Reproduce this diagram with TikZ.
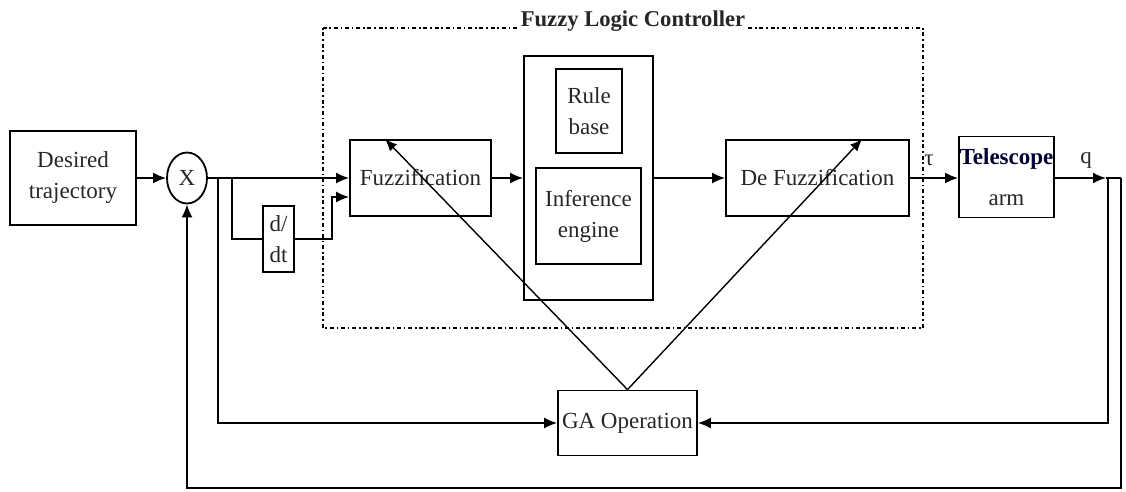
\documentclass[tikz,border=0pt]{standalone}
\usepackage{fontspec}
\setmainfont{Liberation Serif}
\usetikzlibrary{arrows.meta,shapes.geometric,calc}
\begin{document}
\begin{tikzpicture}[x=0.5pt,y=-0.5pt,
  every node/.style={font=\fontsize{11.5}{15.5}\selectfont, inner sep=0pt, text=black!85},
  blk/.style={draw=black, line width=0.9pt, align=center, inner sep=0pt},
  ln/.style={line width=0.9pt},
  arr/.style={ln, -{Latex[length=6.5pt,width=5.5pt]}},
  darr/.style={line width=0.7pt, -{Latex[length=6pt,width=5pt]}},
  flcbox/.style={line width=0.8pt, dash pattern=on 0.8pt off 1.4pt on 2pt off 1.4pt},
  ]
\useasboundingbox (0,0) rectangle (1126,492);
% dotted controller frame
\draw[flcbox] (323,28) rectangle (923,328);
\node[anchor=base, font=\bfseries\fontsize{11.3}{13}\selectfont, fill=white, inner xsep=1pt] (title) at (633,27) {Fuzzy Logic Controller};
% blocks
\node[blk, minimum width=63pt, minimum height=47pt] (des) at (73,178) {Desired\\trajectory};
\node[draw=black, line width=0.9pt, ellipse, minimum width=20pt, minimum height=25.5pt] (sum) at (187,178) {X};
\node[blk, minimum width=15.5pt, minimum height=33pt] (ddt) at (278.5,239) {d/\\dt};
\node[blk, minimum width=70.5pt, minimum height=38pt] (fuz) at (420.5,178) {Fuzzification};
\node[blk, minimum width=64.5pt, minimum height=122pt] (big) at (588.5,178) {};
\node[blk, minimum width=33pt, minimum height=42pt] (rule) at (589,111) {Rule\\base};
\node[blk, minimum width=52.5pt, minimum height=48pt] (inf) at (588.5,216) {Inference\\engine};
\node[blk, minimum width=91.5pt, minimum height=38pt] (def) at (817.5,178) {De Fuzzification};
\node[blk, minimum width=47.5pt, minimum height=40.5pt] (tel) at (1006.5,177) {{\bfseries\fontsize{11.5}{12}\selectfont\color{black!80!blue}Telescope}\\[5pt]arm};
\node[blk, minimum width=69.5pt, minimum height=32.5pt] (ga) at (627.5,423) {GA Operation};
\node (tau) at (929,160) {τ};
\node (q) at (1086,160) {q};
% connectors
\coordinate (j1) at (218,178);
\coordinate (j2) at (232,178);
\coordinate (k1) at (332,239);
\coordinate (k2) at (332,197);
\coordinate (o1) at (1106,178);
\coordinate (o2) at (1121,178);
\coordinate (v1) at (1108,178);
\coordinate (b1) at (1121,488);
\draw[arr] (des.east) -- (sum.west);
\draw[arr] (sum.east) -- (fuz.west);
\draw[ln] (j2) |- (ddt.west);
\draw[arr] (ddt.east) -- (k1) -- (k2) -- (k2 -| fuz.west);
\draw[arr] (fuz.east) -- (big.west);
\draw[arr] (big.east) -- (def.west);
\draw[arr] (def.east) -- (tel.west |- def.east);
\draw[arr] (tel.east |- o1) -- (o1);
\draw[ln] (o1) -- (o2);
\draw[arr] (v1) |- (ga.east);
\draw[arr] (j1) |- (ga.west);
\draw[arr] (o2) -- (b1) -| (sum.south);
\draw[darr] (ga.north) -- ($(fuz.north west)+(36,0)$);
\draw[darr] (ga.north) -- ($(def.north west)+(137,0)$);
\end{tikzpicture}
\end{document}
